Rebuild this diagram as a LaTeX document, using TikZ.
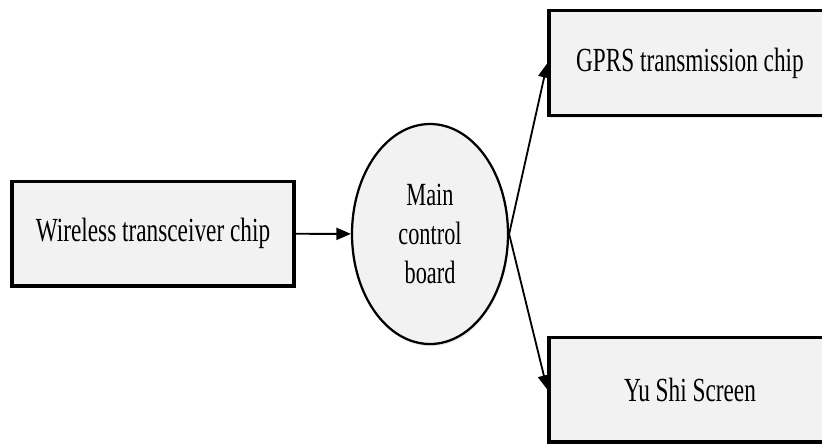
\documentclass[tikz,border=0pt]{standalone}
\usepackage{fontspec}
\usepackage{xcolor}
\usepackage{tikz}
\usetikzlibrary{arrows.meta,shapes.geometric,shadows}
\newfontfamily\boxfont[FakeStretch=0.69]{Liberation Serif}
\definecolor{boxfill}{HTML}{F2F2F2}

\begin{document}
\begin{tikzpicture}[
      box/.style={draw, line width=2.4pt, fill=boxfill, minimum width=7.05cm, minimum height=2.62cm, inner sep=0pt,
        font=\boxfont\fontsize{24}{27}\selectfont,
        drop shadow={opacity=0.18, shadow xshift=0.6pt, shadow yshift=-1.6pt}},
      board/.style={ellipse, draw, line width=1.6pt, fill=boxfill, minimum width=3.9cm, minimum height=5.5cm, inner sep=0pt,
        align=center, font=\boxfont\fontsize{23}{27.5}\selectfont,
        drop shadow={opacity=0.18, shadow xshift=0.6pt, shadow yshift=-1.6pt}},
      link/.style={-{Triangle[length=3.6mm, width=3mm]}, line width=1.3pt},
    ]
    \useasboundingbox (0,0) rectangle (20.55,-11.1);
    \begin{scope}
      \clip (0,0) rectangle (20.55,-11.1);
      \node[box] (radio) at (3.825,-5.84) {Wireless transceiver chip};
      \node[board] (main) at (10.75,-5.85) {Main\\control\\board};
      \node[box] (gprs) at (17.25,-1.58) {GPRS transmission chip};
      \node[box] (screen) at (17.25,-9.74) {Yu Shi Screen};
      \draw[link] (radio) -- (main);
      \draw[link] (main.east) -- (gprs.west);
      \draw[link] (main.east) -- (screen.west);
    \end{scope}
  \end{tikzpicture}
\end{document}
